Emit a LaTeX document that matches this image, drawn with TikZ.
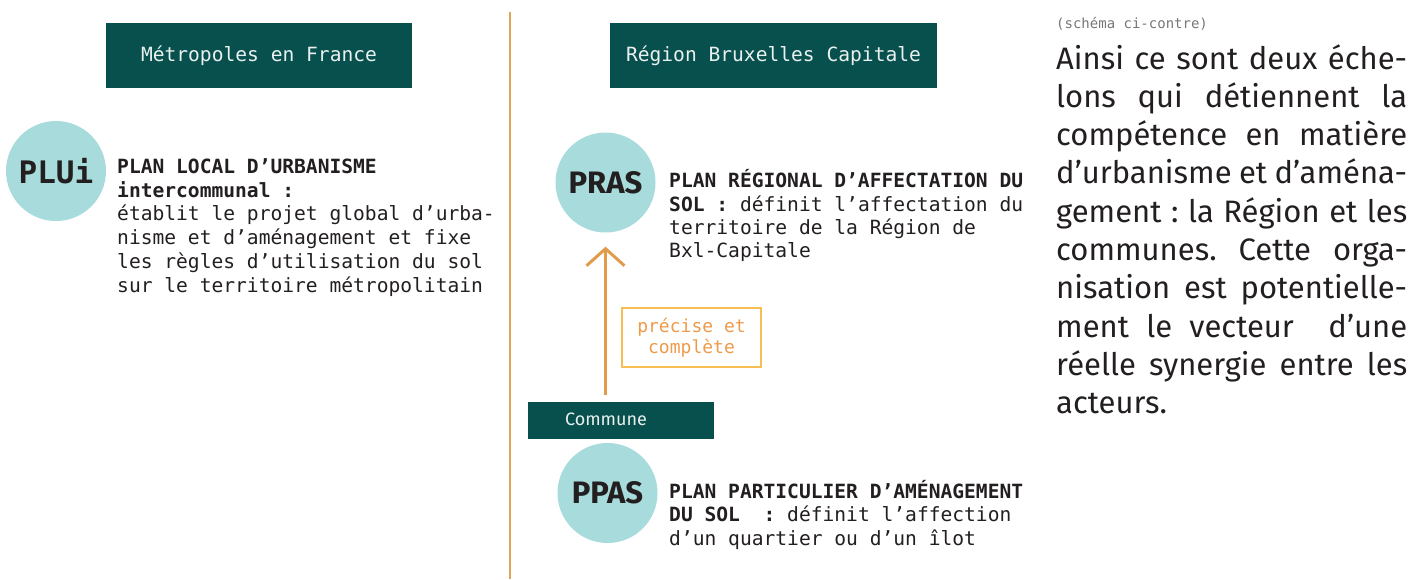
\documentclass[tikz,border=0pt]{standalone}
\usepackage{fontspec}
\setmainfont{Fira Sans}
\newfontfamily\monof{DejaVu Sans Mono}
\newfontfamily\sansf{Fira Sans}
\usetikzlibrary{arrows.meta}
\frenchspacing
\definecolor{darkteal}{HTML}{08504D}
\definecolor{lteal}{HTML}{A7DBDC}
\definecolor{hdrtext}{HTML}{E8F1EF}
\definecolor{bodytext}{HTML}{231F20}
\definecolor{vline}{HTML}{DFA55A}
\definecolor{arrowc}{HTML}{E09C4A}
\definecolor{boxborder}{HTML}{F6BE54}
\definecolor{orangetext}{HTML}{EE9A4B}
\definecolor{greytext}{HTML}{777777}
\tikzset{
  hdr/.style={fill=darkteal, text=hdrtext, inner sep=0pt, font=\monof\fontsize{19.6}{23.6}\selectfont},
  circ/.style={circle, fill=lteal, minimum size=100pt, inner sep=0pt, text=bodytext},
  ln/.style={anchor=base west, inner sep=0pt, text=bodytext, font=\monof\fontsize{19.6}{23.6}\selectfont},
  parl/.style={anchor=base west, inner sep=0pt, text=bodytext, font=\sansf\fontsize{31}{38}\selectfont},
  sepline/.style={draw=vline, line width=2pt},
  arr/.style={draw=arrowc, line width=3pt, -{Straight Barb[length=17pt,width=38pt]}},
  pbox/.style={draw=boxborder, line width=1.2pt, minimum width=139pt, minimum height=59pt, align=center, inner sep=0pt, text=orangetext, font=\monof\fontsize{18}{21}\selectfont},
  cbox/.style={fill=darkteal, minimum width=186pt, minimum height=37pt, inner sep=0pt},
}
\begin{document}
\begin{tikzpicture}[x=1pt,y=-1pt]
\useasboundingbox (0,0) rectangle (1426,579);
% separator
\coordinate (septop) at (510,12);
\coordinate (sepbot) at (510,579);
\draw[sepline] (septop) -- (sepbot);
% headers
\node[hdr, minimum width=306pt, minimum height=65pt] (hfr) at (259,55.5) {Métropoles en France};
\node[hdr, minimum width=327pt, minimum height=65pt] (hbx) at (773.5,55.5) {Région Bruxelles Capitale};
% PLUi
\node[circ, font=\monof\bfseries\fontsize{31}{31}\selectfont] (plui) at (56,171) {PLUi};
\node[ln] (pl1) at (117,173.5) {\bfseries PLAN LOCAL D’URBANISME};
\node[ln] (pl2) at (117,197.2) {\bfseries intercommunal :};
\node[ln] (pl3) at (117,220.9) {établit le projet global d’urba-};
\node[ln] (pl4) at (117,244.6) {nisme et d’aménagement et fixe};
\node[ln] (pl5) at (117,268.3) {les règles d’utilisation du sol};
\node[ln] (pl6) at (117,292) {sur le territoire métropolitain};
% PRAS
\node[circ, font=\sansf\bfseries\fontsize{31}{31}\selectfont] (pras) at (605.5,182.5) {PRAS};
\node[ln] (pr1) at (669,187.3) {\bfseries PLAN RÉGIONAL D’AFFECTATION DU};
\node[ln] (pr2) at (669,211) {\textbf{SOL :} définit l’affectation du};
\node[ln] (pr3) at (669,234.4) {territoire de la Région de};
\node[ln] (pr4) at (669,257.8) {Bxl-Capitale};
% Commune
\node[cbox] (commune) at (621,420.5) {};
\node[inner sep=0pt, text=hdrtext, font=\sansf\fontsize{18}{18}\selectfont] (communet) at (606,419) {Commune};
% arrow
\draw[arr, shorten <=7pt, shorten >=14pt] (pras.south |- commune.north) -- (pras.south);
\node[pbox] (prec) at (691.5,337.5) {précise et\\complète};
% PPAS
\node[circ, font=\sansf\bfseries\fontsize{31}{31}\selectfont] (ppas) at (607.5,493) {PPAS};
\node[ln] (pp1) at (669,498.3) {\bfseries PLAN PARTICULIER D’AMÉNAGEMENT};
\node[ln] (pp2) at (669,521.7) {\textbf{DU SOL}\ \ \textbf{:} définit l’affection};
\node[ln] (pp3) at (669,545) {d’un quartier ou d’un îlot};
% right text
\node[anchor=base west, inner sep=0pt, text=greytext, font=\monof\fontsize{14}{14}\selectfont] (note) at (1056,28) {(schéma ci-contre)};
\node[parl] (r1) at (1056,69) {\makebox[351pt][s]{Ainsi ce sont deux éche-}};
\node[parl] (r2) at (1056,107.3) {\makebox[351pt][s]{lons qui détiennent la}};
\node[parl] (r3) at (1056,145.6) {\makebox[351pt][s]{compétence en matière}};
\node[parl] (r4) at (1056,183.9) {\makebox[351pt][s]{d’urbanisme et d’aména-}};
\node[parl] (r5) at (1056,222.2) {\makebox[351pt][s]{gement : la Région et les}};
\node[parl] (r6) at (1056,260.5) {\makebox[351pt][s]{communes. Cette orga-}};
\node[parl] (r7) at (1056,298.8) {\makebox[351pt][s]{nisation est potentielle-}};
\node[parl] (r8) at (1056,337.1) {\makebox[351pt][s]{ment le vecteur\ \ d’une}};
\node[parl] (r9) at (1056,375.4) {\makebox[351pt][s]{réelle synergie entre les}};
\node[parl] (r10) at (1056,413.7) {acteurs.};
\end{tikzpicture}
\end{document}
